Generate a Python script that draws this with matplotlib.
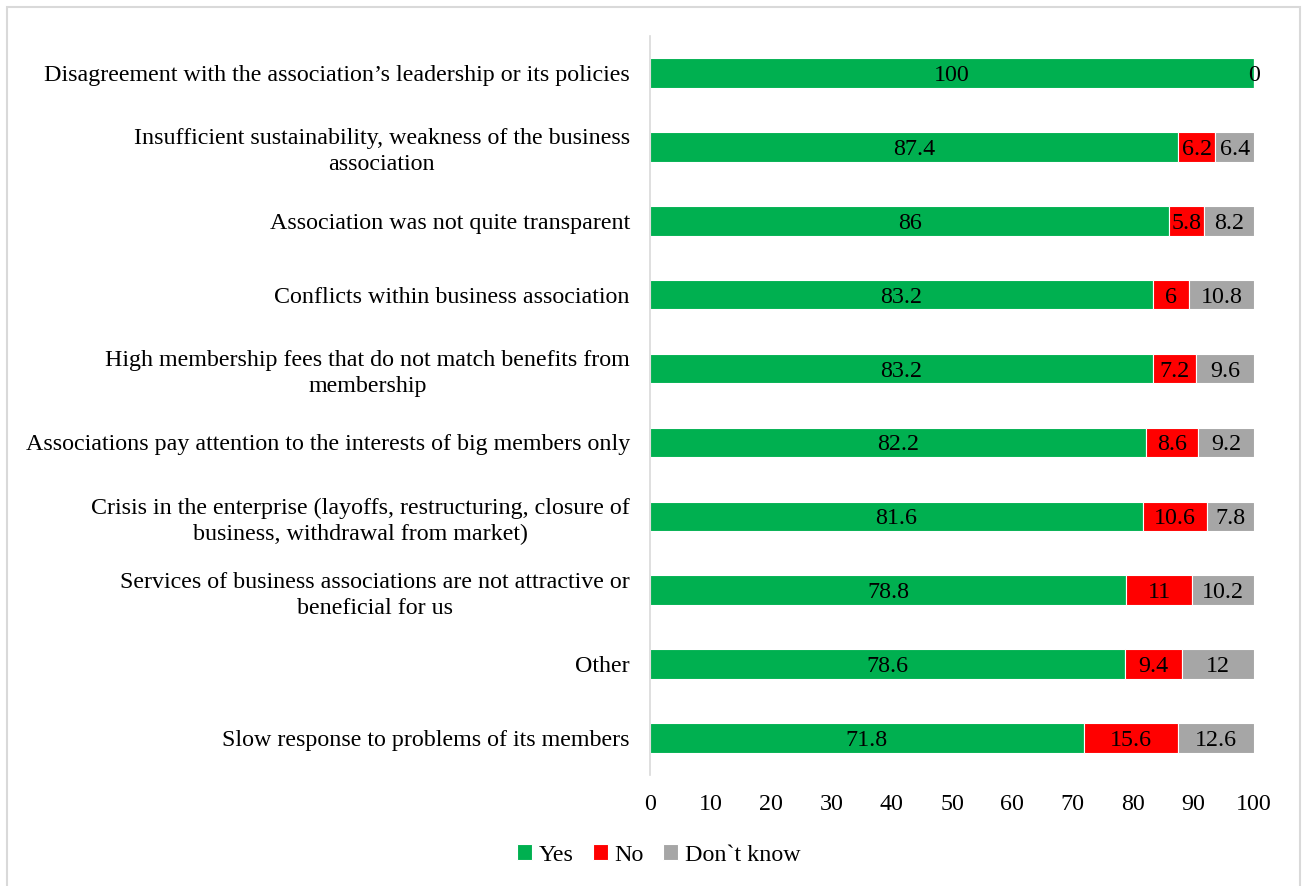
import matplotlib.pyplot as plt
from matplotlib.patches import Rectangle
import numpy as np

plt.rcParams['font.family'] = ['Liberation Serif', 'DejaVu Serif']

reasons = [
    "Disagreement with the association\u2019s leadership or its policies",
    "Insufficient sustainability, weakness of the business\nassociation",
    "Association was not quite transparent",
    "Conflicts within business association",
    "High membership fees that do not match benefits from\nmembership",
    "Associations pay attention to the interests of big members only",
    "Crisis in the enterprise (layoffs, restructuring, closure of\nbusiness, withdrawal from market)",
    "Services of business associations are not attractive or\nbeneficial for us",
    "Other",
    "Slow response to problems of its members",
]
yes = [100, 87.4, 86, 83.2, 83.2, 82.2, 81.6, 78.8, 78.6, 71.8]
no = [0, 6.2, 5.8, 6, 7.2, 8.6, 10.6, 11, 9.4, 15.6]
dont_know = [0, 6.4, 8.2, 10.8, 9.6, 9.2, 7.8, 10.2, 12, 12.6]

fig = plt.figure(figsize=(13.04, 8.86), dpi=100)
ax = fig.add_axes([650 / 1304, 1 - 775 / 886, 604 / 1304, 739 / 886])

y = np.arange(len(reasons))
left = np.zeros(len(reasons))
series = [("Yes", yes, "#00B050"), ("No", no, "#FF0000"), ("Don`t know", dont_know, "#A6A6A6")]
for name, vals, color in series:
    vals = np.array(vals, dtype=float)
    bars = ax.barh(y, vals, left=left, height=0.4, color=color, edgecolor="white",
                   linewidth=0.8, label=name)
    for i, v in enumerate(vals):
        if v == 0 and name == "Don`t know":
            continue
        ax.text(left[i] + v / 2, y[i], f"{v:g}", ha="center", va="center_baseline",
                fontsize=17.3)
    left += vals

ax.set_ylim(len(reasons) - 0.5, -0.5)
ax.set_xlim(0, 100)
ax.set_xticks(np.arange(0, 101, 10))
ax.set_yticks(y)
ax.set_yticklabels(reasons, fontsize=17.3, multialignment="center", linespacing=1.3)
ax.tick_params(axis="both", length=0, labelsize=17.3)
ax.tick_params(axis="y", pad=14.5)
ax.tick_params(axis="x", pad=14)
for side in ["top", "right", "bottom"]:
    ax.spines[side].set_visible(False)
ax.spines["left"].set_color("#D9D9D9")
ax.spines["left"].set_linewidth(1.2)

fig.legend(loc="center", bbox_to_anchor=(659 / 1304, 1 - 855 / 886), ncol=3, frameon=False,
           fontsize=17.3, handlelength=0.6, handleheight=0.6, handletextpad=0.3,
           columnspacing=0.8)

# light frame around the whole chart
fig.patches.append(Rectangle((7 / 1304, -0.01), 1293 / 1304, 1 - 7 / 886 + 0.01,
                             transform=fig.transFigure, fill=False, edgecolor="#D9D9D9",
                             linewidth=1.5))

fig.savefig("out.png", dpi=100)
